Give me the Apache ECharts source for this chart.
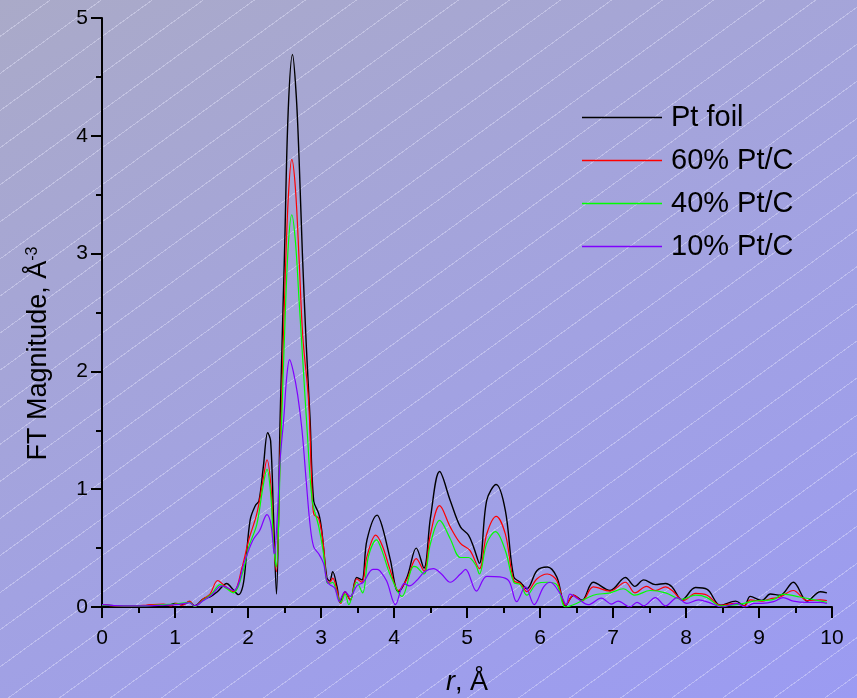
<!DOCTYPE html>
<html>
<head>
<meta charset="utf-8">
<script src="https://cdn.jsdelivr.net/npm/echarts@6.0.0/dist/echarts.min.js"></script>
<style>
  html, body { margin: 0; padding: 0; }
  /* soft lavender gradient with thin diagonal white lines behind the plot */
  #chart {
    width: 857px;
    height: 698px;
    background:
      repeating-linear-gradient(144deg, rgba(255,255,255,0) 0 29px, rgba(235,235,255,0.38) 29px 30px),
      linear-gradient(155deg, #aaaac8 0%, #a2a2e2 55%, #9b9bf2 100%);
  }
</style>
</head>
<body>
<div id="chart"></div>
<script>
// r (Å) and FT magnitude, one pair of arrays per sample
const foilR = [0, 0.2, 0.4, 0.6, 0.8, 0.9, 1.0, 1.1, 1.2, 1.27, 1.39, 1.48, 1.58, 1.71, 1.78, 1.87, 1.93, 1.97, 2.03, 2.10, 2.15, 2.21, 2.27, 2.31, 2.35, 2.39, 2.44, 2.50, 2.55, 2.61, 2.66, 2.70, 2.745, 2.80, 2.85, 2.90, 2.97, 3.01, 3.08, 3.12, 3.16, 3.22, 3.26, 3.33, 3.40, 3.49, 3.56, 3.63, 3.77, 3.84, 3.95, 4.06, 4.18, 4.305, 4.41, 4.50, 4.625, 4.77, 4.91, 5.02, 5.09, 5.17, 5.27, 5.40, 5.525, 5.64, 5.73, 5.82, 5.96, 6.10, 6.23, 6.35, 6.46, 6.575, 6.73, 6.96, 7.17, 7.30, 7.42, 7.58, 7.72, 7.81, 7.945, 8.13, 8.29, 8.47, 8.68, 8.80, 8.88, 9.04, 9.155, 9.29, 9.47, 9.66, 9.84, 9.93];
const foilV = [0.02, 0.01, 0.005, 0.01, 0.02, 0.015, 0.03, 0.02, 0.045, 0.01, 0.07, 0.085, 0.13, 0.20, 0.16, 0.105, 0.18, 0.38, 0.74, 0.86, 0.90, 1.19, 1.48, 1.41, 0.76, 0.11, 1.6, 3.0, 4.2, 4.69, 4.35, 3.8, 3.0, 2.2, 1.6, 0.9, 0.79, 0.65, 0.25, 0.22, 0.30, 0.17, 0.04, 0.13, 0.06, 0.25, 0.23, 0.57, 0.78, 0.68, 0.40, 0.13, 0.255, 0.50, 0.33, 0.76, 1.15, 0.905, 0.68, 0.61, 0.51, 0.37, 0.905, 1.04, 0.82, 0.255, 0.21, 0.155, 0.31, 0.34, 0.255, 0.01, 0.10, 0.057, 0.21, 0.14, 0.25, 0.175, 0.23, 0.19, 0.20, 0.17, 0.06, 0.165, 0.15, 0.015, 0.05, 0.01, 0.09, 0.056, 0.11, 0.10, 0.21, 0.05, 0.13, 0.12];

const pt60R = [0, 0.2, 0.4, 0.6, 0.84, 0.95, 1.02, 1.1, 1.2, 1.27, 1.39, 1.48, 1.585, 1.68, 1.80, 1.92, 2.01, 2.12, 2.205, 2.26, 2.315, 2.35, 2.39, 2.44, 2.50, 2.55, 2.60, 2.65, 2.70, 2.75, 2.83, 2.87, 2.90, 2.97, 3.035, 3.08, 3.12, 3.16, 3.22, 3.27, 3.33, 3.40, 3.49, 3.56, 3.63, 3.75, 3.84, 3.95, 4.06, 4.18, 4.305, 4.41, 4.50, 4.625, 4.77, 4.91, 5.04, 5.17, 5.27, 5.40, 5.525, 5.64, 5.73, 5.82, 5.96, 6.10, 6.23, 6.35, 6.46, 6.575, 6.73, 6.96, 7.17, 7.30, 7.46, 7.58, 7.72, 7.81, 7.97, 8.13, 8.29, 8.47, 8.68, 8.80, 8.88, 9.04, 9.155, 9.29, 9.47, 9.66, 9.84, 9.93];
const pt60V = [0.02, 0.01, 0.01, 0.015, 0.025, 0.01, 0.03, 0.015, 0.05, 0.005, 0.07, 0.11, 0.225, 0.18, 0.13, 0.34, 0.57, 0.79, 1.075, 1.25, 1.02, 0.57, 0.30, 1.3, 2.6, 3.45, 3.80, 3.55, 2.95, 2.3, 1.75, 1.1, 0.79, 0.75, 0.51, 0.22, 0.21, 0.245, 0.14, 0.03, 0.13, 0.06, 0.24, 0.21, 0.43, 0.61, 0.52, 0.31, 0.14, 0.24, 0.41, 0.305, 0.62, 0.86, 0.68, 0.54, 0.48, 0.325, 0.62, 0.77, 0.62, 0.225, 0.20, 0.13, 0.24, 0.28, 0.225, 0.015, 0.10, 0.05, 0.17, 0.135, 0.21, 0.12, 0.175, 0.14, 0.17, 0.14, 0.056, 0.115, 0.10, 0.015, 0.03, 0.01, 0.06, 0.05, 0.07, 0.085, 0.14, 0.055, 0.06, 0.055];

const pt40R = [0, 0.3, 0.6, 0.84, 1.02, 1.2, 1.27, 1.39, 1.5, 1.62, 1.70, 1.80, 1.93, 2.01, 2.12, 2.205, 2.26, 2.315, 2.35, 2.39, 2.44, 2.50, 2.55, 2.60, 2.65, 2.70, 2.75, 2.81, 2.88, 2.97, 3.035, 3.08, 3.12, 3.16, 3.22, 3.27, 3.33, 3.38, 3.49, 3.57, 3.65, 3.76, 3.84, 3.95, 4.11, 4.27, 4.31, 4.41, 4.50, 4.625, 4.77, 4.91, 5.02, 5.12, 5.17, 5.27, 5.39, 5.525, 5.64, 5.73, 5.82, 5.96, 6.10, 6.23, 6.35, 6.5, 6.73, 6.96, 7.14, 7.30, 7.51, 7.72, 7.945, 8.13, 8.29, 8.47, 8.74, 8.93, 9.20, 9.33, 9.56, 9.93];
const pt40V = [0.015, 0.01, 0.01, 0.02, 0.025, 0.04, 0.005, 0.06, 0.11, 0.19, 0.16, 0.12, 0.30, 0.51, 0.70, 1.02, 1.17, 0.93, 0.54, 0.34, 1.2, 2.3, 3.05, 3.33, 3.1, 2.6, 2.1, 1.5, 0.905, 0.68, 0.45, 0.21, 0.20, 0.21, 0.11, 0.04, 0.11, 0.02, 0.21, 0.12, 0.43, 0.57, 0.47, 0.27, 0.09, 0.345, 0.34, 0.28, 0.54, 0.735, 0.58, 0.42, 0.42, 0.355, 0.28, 0.54, 0.64, 0.48, 0.21, 0.19, 0.10, 0.20, 0.21, 0.19, 0.0, 0.03, 0.10, 0.12, 0.155, 0.10, 0.14, 0.12, 0.065, 0.10, 0.08, 0.01, 0.025, 0.05, 0.065, 0.11, 0.085, 0.04];

const pt10R = [0, 0.3, 0.6, 0.84, 1.02, 1.2, 1.27, 1.39, 1.5, 1.64, 1.80, 1.96, 2.07, 2.16, 2.26, 2.315, 2.36, 2.40, 2.44, 2.49, 2.53, 2.57, 2.62, 2.68, 2.74, 2.80, 2.85, 2.90, 2.97, 3.035, 3.08, 3.12, 3.19, 3.25, 3.33, 3.40, 3.49, 3.58, 3.71, 3.77, 3.81, 3.90, 4.02, 4.14, 4.21, 4.31, 4.42, 4.54, 4.65, 4.77, 4.91, 4.98, 5.13, 5.27, 5.45, 5.575, 5.68, 5.80, 5.92, 6.05, 6.14, 6.28, 6.36, 6.41, 6.53, 6.66, 6.84, 6.98, 7.07, 7.23, 7.33, 7.42, 7.58, 7.72, 7.88, 8.01, 8.17, 8.33, 8.49, 8.70, 8.81, 8.93, 9.04, 9.20, 9.33, 9.47, 9.66, 9.84, 9.93];
const pt10V = [0.02, 0.01, 0.01, 0.015, 0.02, 0.035, 0.01, 0.055, 0.10, 0.18, 0.14, 0.40, 0.57, 0.65, 0.785, 0.70, 0.45, 0.75, 1.25, 1.6, 1.95, 2.10, 2.0, 1.8, 1.5, 1.05, 0.7, 0.51, 0.45, 0.37, 0.22, 0.19, 0.16, 0.05, 0.13, 0.09, 0.18, 0.21, 0.32, 0.32, 0.305, 0.22, 0.02, 0.20, 0.18, 0.225, 0.30, 0.325, 0.28, 0.21, 0.28, 0.32, 0.135, 0.26, 0.255, 0.22, 0.045, 0.17, 0.02, 0.17, 0.21, 0.11, 0.02, 0.11, 0.065, 0.02, 0.075, 0.025, 0.05, 0.0, 0.04, 0.01, 0.08, 0.01, 0.08, 0.03, 0.06, 0.035, 0.0, 0.03, 0.0, 0.03, 0.03, 0.045, 0.08, 0.05, 0.04, 0.04, 0.03];

const seriesNames = ["Pt foil", "60% Pt/C", "40% Pt/C", "10% Pt/C"];
const seriesColors = ["#000000", "#ff0000", "#00ff00", "#8000ff"];
const xTicks = [0, 10, 1];  // min, max, step
const yTicks = [0, 5, 1];

const FONT = "'Liberation Sans', Arial, sans-serif";

const pairs = (rs, vs) => rs.map((r, i) => [r, vs[i]]);
const sets = [pairs(foilR, foilV), pairs(pt60R, pt60V), pairs(pt40R, pt40V), pairs(pt10R, pt10V)];

const chart = echarts.init(document.getElementById("chart"));

const axisCommon = {
  axisLine: { show: true, lineStyle: { color: "#000", width: 2 } },
  axisTick: { show: true, inside: false, length: 11, lineStyle: { color: "#000", width: 2 } },
  minorTick: { show: true, splitNumber: 2, length: 6, lineStyle: { color: "#000", width: 2 } },
  splitLine: { show: false },
};

const option = {
  animation: false,
  backgroundColor: "transparent",
  // fixed plot box, no automatic shrinking for labels
  grid: { left: 102, right: 25, top: 18, bottom: 91, containLabel: false, outerBoundsMode: "none" },
  legend: {
    data: seriesNames,
    orient: "vertical",
    left: 582,
    top: 103,
    padding: 0,
    icon: "rect",
    itemWidth: 80,
    itemHeight: 1.5,
    itemGap: 14,
    textStyle: { fontFamily: FONT, fontSize: 29, color: "#000", padding: [0, 0, 0, 4] },
  },
  xAxis: {
    type: "value",
    min: xTicks[0],
    max: xTicks[1],
    interval: xTicks[2],
    ...axisCommon,
    axisLabel: { color: "#000", fontFamily: FONT, fontSize: 21, margin: 21 },
    name: "{i|r}{n|, Å}",
    nameLocation: "middle",
    nameGap: 62,
    nameTextStyle: {
      color: "#000",
      fontFamily: FONT,
      fontSize: 27,
      rich: {
        i: { fontFamily: FONT, fontSize: 27, fontStyle: "italic", color: "#000" },
        n: { fontFamily: FONT, fontSize: 27, color: "#000" },
      },
    },
  },
  yAxis: {
    type: "value",
    min: yTicks[0],
    max: yTicks[1],
    interval: yTicks[2],
    ...axisCommon,
    axisLabel: { color: "#000", fontFamily: FONT, fontSize: 21, margin: 14 },
    name: "{a|FT Magnitude, Å}{s|-3}",
    nameLocation: "middle",
    nameGap: 50,
    nameRotate: 90,
    nameTextStyle: {
      color: "#000",
      fontFamily: FONT,
      fontSize: 27,
      padding: [0, 82, 0, 0],
      rich: {
        a: { fontFamily: FONT, fontSize: 27, color: "#000", verticalAlign: "bottom" },
        s: { fontFamily: FONT, fontSize: 16, color: "#000", verticalAlign: "top" },
      },
    },
  },
  series: sets.map((d, i) => ({
    name: seriesNames[i],
    type: "line",
    data: d,
    smooth: 0.35,
    showSymbol: false,
    symbol: "none",
    color: seriesColors[i],
    lineStyle: { color: seriesColors[i], width: i === 0 ? 1.4 : 1.2 },
  })),
};

chart.setOption(option);
</script>
</body>
</html>
